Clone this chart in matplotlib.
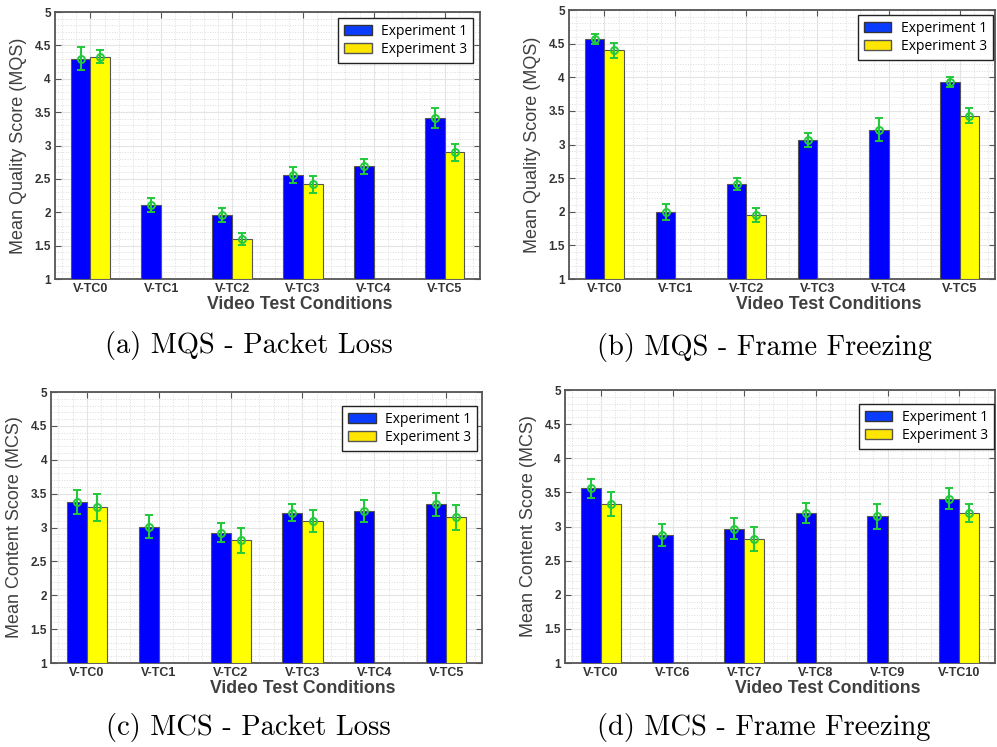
import numpy as np
import matplotlib
matplotlib.use("Agg")
import matplotlib.pyplot as plt
from matplotlib.patches import Patch
from matplotlib.ticker import MultipleLocator
from matplotlib.transforms import ScaledTranslation

# ---- data ----
labels_pl = ["V-TC0", "V-TC1", "V-TC2", "V-TC3", "V-TC4", "V-TC5"]
labels_ff = ["V-TC0", "V-TC1", "V-TC2", "V-TC3", "V-TC4", "V-TC5"]
labels_mcs_ff = ["V-TC0", "V-TC6", "V-TC7", "V-TC8", "V-TC9", "V-TC10"]

# (a) MQS - Packet Loss
mqs_pl_exp1 = [4.30, 2.11, 1.96, 2.56, 2.69, 3.41]
mqs_pl_exp1_err = [0.17, 0.11, 0.11, 0.12, 0.11, 0.15]
mqs_pl_exp3 = [4.33, None, 1.60, 2.42, None, 2.90]
mqs_pl_exp3_err = [0.10, None, 0.09, 0.13, None, 0.13]

# (b) MQS - Frame Freezing
mqs_ff_exp1 = [4.57, 1.99, 2.41, 3.07, 3.22, 3.93]
mqs_ff_exp1_err = [0.07, 0.12, 0.09, 0.10, 0.17, 0.08]
mqs_ff_exp3 = [4.40, None, 1.95, None, None, 3.43]
mqs_ff_exp3_err = [0.11, None, 0.10, None, None, 0.11]

# (c) MCS - Packet Loss
mcs_pl_exp1 = [3.38, 3.01, 2.92, 3.22, 3.24, 3.34]
mcs_pl_exp1_err = [0.18, 0.17, 0.14, 0.13, 0.16, 0.17]
mcs_pl_exp3 = [3.30, None, 2.81, 3.10, None, 3.15]
mcs_pl_exp3_err = [0.20, None, 0.18, 0.16, None, 0.18]

# (d) MCS - Frame Freezing
mcs_ff_exp1 = [3.56, 2.87, 2.97, 3.20, 3.15, 3.41]
mcs_ff_exp1_err = [0.14, 0.16, 0.15, 0.15, 0.18, 0.15]
mcs_ff_exp3 = [3.33, None, 2.82, None, None, 3.20]
mcs_ff_exp3_err = [0.18, None, 0.18, None, None, 0.13]

BLUE = "#0000ff"
YELLOW = "#ffff00"
GREEN = "#22c93a"
GRAY = "#404040"
SANS = "Liberation Sans"

fig = plt.figure(figsize=(9.97, 7.47), dpi=100)


def draw_panel(rect, labels, exp1, err1, exp3, err3, ylabel, xlab_x, legend_off, caption, cap_xy):
    ax = fig.add_axes(rect)
    h_px = rect[3] * 747
    x = np.arange(len(labels))
    w = 0.28
    for vals, errs, off, col in [(exp1, err1, -w / 2, BLUE), (exp3, err3, w / 2, YELLOW)]:
        idx = [i for i, v in enumerate(vals) if v is not None]
        xs = x[idx] + off
        ys = [vals[i] for i in idx]
        es = [errs[i] for i in idx]
        ax.bar(xs, [v - 1 for v in ys], bottom=1, width=w, color=col,
               edgecolor="#555555", linewidth=0.8, zorder=3)
        ax.errorbar(xs, ys, yerr=es, fmt="o", color=GREEN, mfc="none",
                    ms=5, mew=1.4, elinewidth=1.5, capsize=3, capthick=1.4, zorder=4)

    ax.set_xlim(-0.5, len(labels) - 0.5)
    ax.set_ylim(1, 5)
    ax.set_xticks(x)
    ax.set_xticklabels(labels, fontsize=9, fontweight="bold", color="#333333", family=SANS)
    for lab in ax.get_xticklabels():
        lab.set_transform(lab.get_transform() + ScaledTranslation(0.09, 0, fig.dpi_scale_trans))
    ax.yaxis.set_major_locator(MultipleLocator(0.5))
    ax.yaxis.set_minor_locator(MultipleLocator(0.1))
    ax.xaxis.set_minor_locator(MultipleLocator(0.2))
    ax.set_yticklabels([f"{v:g}" for v in ax.get_yticks()], fontsize=8.5,
                       fontweight="bold", color="#333333", family=SANS)
    ax.tick_params(which="major", direction="in", length=4, top=True, right=True,
                   color="#555555", pad=3)
    ax.tick_params(which="minor", length=0)
    ax.grid(which="major", color="#e4e4e4", linewidth=0.8, zorder=0)
    ax.grid(which="minor", color="#dcdcdc", linestyle=":", linewidth=0.7, zorder=0)
    ax.set_axisbelow(True)
    for sp in ax.spines.values():
        sp.set_color("#555555")
        sp.set_linewidth(1.3)

    ax.set_ylabel(ylabel, fontsize=13, color=GRAY, family=SANS)
    ax.yaxis.set_label_coords(-28 / (rect[2] * 997), 0.5)
    ax.set_xlabel("Video Test Conditions", fontsize=12.7, fontweight="bold", color=GRAY,
                  family=SANS, va="center")
    ax.xaxis.set_label_coords(xlab_x, -25 / h_px)

    handles = [Patch(facecolor="#0a3cff", edgecolor="#333333", label="Experiment 1"),
               Patch(facecolor="#ffe600", edgecolor="#555555", label="Experiment 3")]
    leg = ax.legend(handles=handles, loc="upper right", bbox_to_anchor=legend_off,
                    borderaxespad=0, fancybox=False, framealpha=1, edgecolor="#222222",
                    prop={"family": "Open Sans", "size": 10}, handlelength=2.0,
                    handleheight=0.75, labelspacing=0.25, borderpad=0.4, handletextpad=0.7)
    leg.get_frame().set_linewidth(1.0)

    fig.text(cap_xy[0] / 997, 1 - cap_xy[1] / 747, caption, ha="center", va="center",
             fontsize=20.5, family="cmr10")
    return ax


draw_panel([0.0552, 0.6265, 0.4263, 0.3574], labels_pl, mqs_pl_exp1, mqs_pl_exp1_err,
           mqs_pl_exp3, mqs_pl_exp3_err, "Mean Quality Score (MQS)", 0.576,
           (1 - 7 / 425, 1 - 6 / 267), "(a) MQS - Packet Loss", (249, 345))
draw_panel([0.5707, 0.6265, 0.4273, 0.3601], labels_ff, mqs_ff_exp1, mqs_ff_exp1_err,
           mqs_ff_exp3, mqs_ff_exp3_err, "Mean Quality Score (MQS)", 0.61,
           (1 - 2 / 426, 1 - 5 / 269), "(b) MQS - Frame Freezing", (764, 347))
draw_panel([0.0512, 0.1124, 0.4323, 0.3628], labels_pl, mcs_pl_exp1, mcs_pl_exp1_err,
           mcs_pl_exp3, mcs_pl_exp3_err, "Mean Content Score (MCS)", 0.585,
           (1 - 5 / 431, 1 - 14 / 271), "(c) MCS - Packet Loss", (248, 728))
draw_panel([0.5667, 0.1124, 0.4313, 0.3655], labels_mcs_ff, mcs_ff_exp1, mcs_ff_exp1_err,
           mcs_ff_exp3, mcs_ff_exp3_err, "Mean Content Score (MCS)", 0.61,
           (1 - 1 / 430, 1 - 14 / 273), "(d) MCS - Frame Freezing", (764, 728))

fig.savefig("out.png", dpi=100)
